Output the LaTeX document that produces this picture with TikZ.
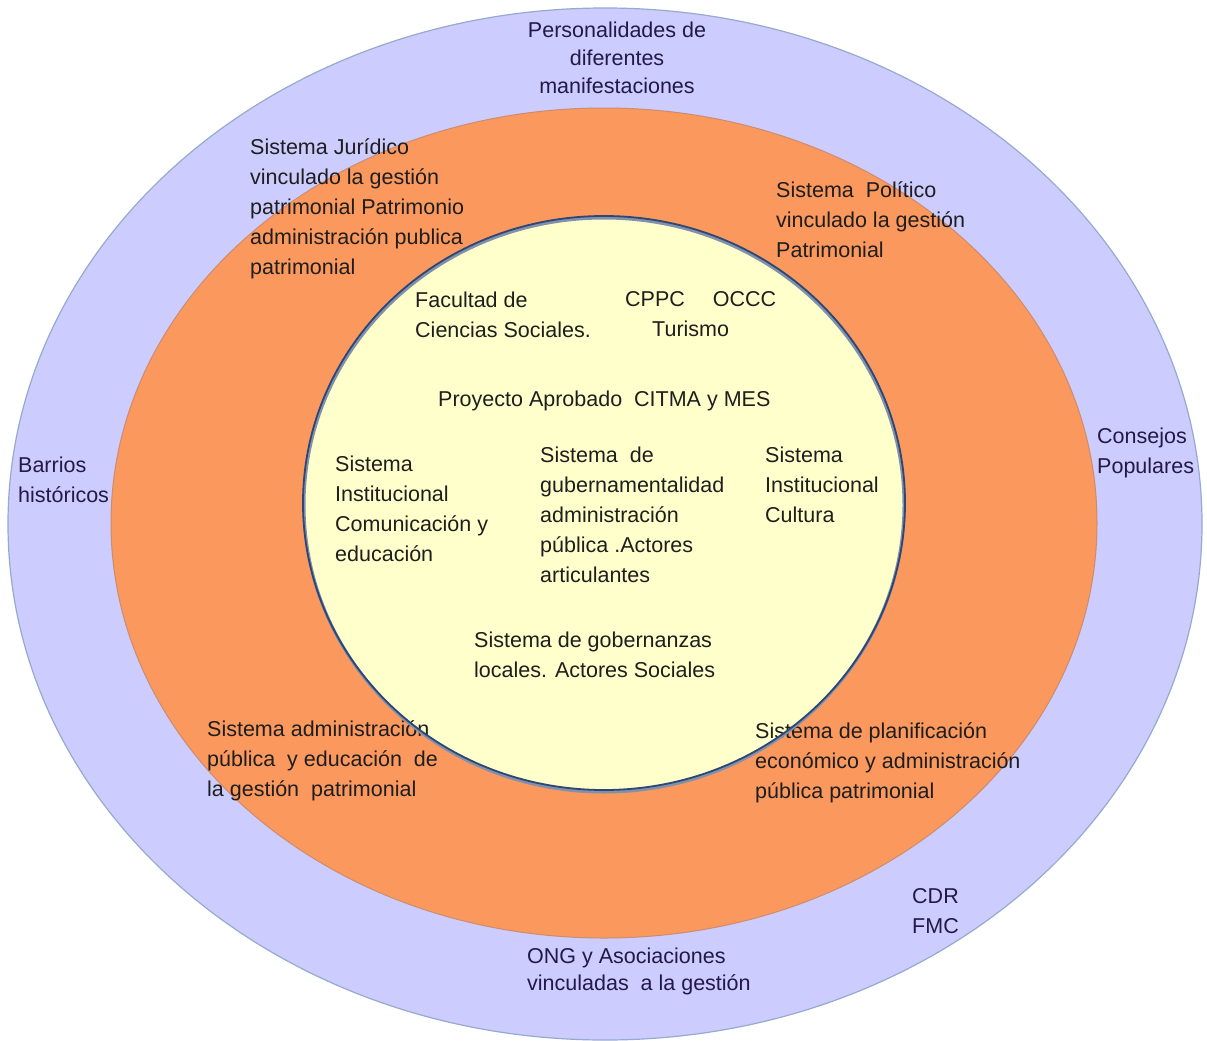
\documentclass[tikz,border=0pt]{standalone}
\usepackage{fontspec}
\setmainfont{Liberation Sans}
\definecolor{lav}{RGB}{204,204,255}
\definecolor{lavline}{RGB}{150,170,205}
\definecolor{orng}{RGB}{250,152,94}
\definecolor{orline}{RGB}{205,140,110}
\definecolor{cream}{RGB}{255,255,204}
\definecolor{innerline}{RGB}{45,70,115}
\definecolor{txtout}{RGB}{35,25,70}
\definecolor{txtin}{RGB}{30,30,30}
\begin{document}
\begin{tikzpicture}[x=1pt,y=-1pt,
  lbl/.style={inner sep=0pt,align=left,anchor=west,text=txtin,font=\fontsize{21.5}{30}\selectfont},
  lblo/.style={lbl,text=txtout},
  lblc/.style={lbl,align=center,anchor=center}]
\useasboundingbox (0,0) rectangle (1207,1041);
\fill[white] (0,0) rectangle (1207,1041);
% rings
\path[fill=lav,draw=lavline,line width=1.2pt] (605,524) ellipse [x radius=597,y radius=516];
\path[fill=orng,draw=orline,line width=1pt] (604,523) ellipse [x radius=493,y radius=415];
\path[fill=cream] (604,503) ellipse [x radius=301,y radius=287];
% outer ring labels
\node[lblc,text=txtout,font=\fontsize{21.5}{28}\selectfont] (pers) at (617,57.5) {Personalidades de\\diferentes\\manifestaciones};
\node[lblo] (barrios) at (18,479.5) {Barrios\\históricos};
\node[lblo] (consejos) at (1097,452.5) {Consejos\\Populares};
\node[lblo] (cdr) at (912,911.5) {CDR\\FMC};
\node[lblo,font=\fontsize{21.5}{27}\selectfont] (ong) at (527,971.5) {ONG y Asociaciones\\vinculadas\ \ a la gestión};
% orange ring labels
\node[lbl] (jur) at (250,209) {Sistema Jurídico\\vinculado la gestión\\patrimonial Patrimonio\\administración publica\\patrimonial};
\node[lbl] (pol) at (776,219.5) {Sistema\ \ Político\\vinculado la gestión\\Patrimonial};
\node[lbl] (adm) at (207,760.5) {Sistema administración\\pública\ \ y educación\ \ de\\la gestión\ \ patrimonial};
\node[lbl] (plan) at (755,763) {Sistema de planificación\\económico y administración\\pública patrimonial};
% inner circle labels
\node[lbl] (fac) at (415,314.5) {Facultad de\\Ciencias Sociales.};
\node[lbl] (cppc) at (625,314.5) {CPPC\hspace{1.3em}OCCC\\\hspace{27pt}Turismo};
\node[lbl] (proy) at (438,401) {Proyecto Aprobado\ \ CITMA y MES};
\node[lbl] (com) at (335,508.5) {Sistema\\Institucional\\Comunicación y\\educación};
\node[lbl] (gub) at (540,515) {Sistema\ \ de\\gubernamentalidad\\administración\\pública .Actores\\articulantes};
\node[lbl] (cult) at (765,485) {Sistema\\Institucional\\Cultura};
\node[lbl] (gob) at (474,655) {Sistema de gobernanzas\\locales. Actores Sociales};
% inner circle border on top
\draw[innerline!60,line width=3pt] (604,505) ellipse [x radius=300,y radius=287];
\draw[innerline,line width=1.8pt] (604,503) ellipse [x radius=301,y radius=287];
\end{tikzpicture}
\end{document}
